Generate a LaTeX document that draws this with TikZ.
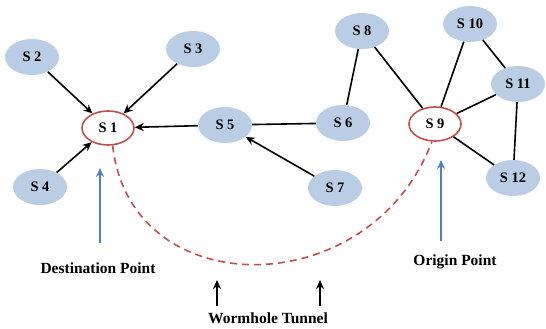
\documentclass[tikz,border=0pt]{standalone}
\usepackage{fontspec}
\setmainfont{Liberation Serif}
\usetikzlibrary{shapes.geometric,arrows.meta}
\definecolor{nodefill}{HTML}{B9CDE5}
\definecolor{redline}{HTML}{C0504D}
\definecolor{blueline}{HTML}{4F81BD}
\tikzset{
  sn/.style={ellipse, fill=nodefill, minimum width=54pt, minimum height=36pt, inner sep=0pt, font=\bfseries\fontsize{14.5}{16}\selectfont},
  hn/.style={ellipse, draw=redline, line width=1.6pt, fill=white, minimum width=52pt, minimum height=34pt, inner sep=0pt, font=\bfseries\fontsize{14.5}{16}\selectfont},
  arr/.style={-{Stealth[length=9pt,width=8pt]}, line width=1.6pt, black},
  lnk/.style={line width=1.6pt, black},
  barr/.style={-{Stealth[length=9pt,width=8pt]}, line width=1.6pt, blueline},
  lbl/.style={font=\bfseries\fontsize{15.5}{18}\selectfont, inner sep=0pt},
}
\begin{document}
\begin{tikzpicture}[x=1pt,y=-1pt]
\useasboundingbox (0,0) rectangle (546,329);
\node[hn] (s1) at (108,128) {S 1};
\node[sn] (s2) at (32,57) {S 2};
\node[sn] (s3) at (193,49) {S 3};
\node[sn] (s4) at (40,187) {S 4};
\node[sn] (s5) at (225,125) {S 5};
\node[sn] (s6) at (343,123) {S 6};
\node[sn] (s7) at (335,188) {S 7};
\node[sn] (s8) at (362,31) {S 8};
\node[hn] (s9) at (435,124) {S 9};
\node[sn] (s10) at (470,24) {S 10};
\node[sn] (s11) at (518,84) {S 11};
\node[sn] (s12) at (513,178) {S 12};
\draw[arr] (s2) -- (s1);
\draw[arr] (s3) -- (s1);
\draw[arr] (s4) -- (s1);
\draw[arr] (s5) -- (s1);
\draw[arr] (s7) -- (s5);
\draw[lnk] (s5) -- (s6);
\draw[lnk] (s6) -- (s8);
\draw[lnk] (s8) -- (s9);
\draw[lnk] (s10) -- (s9);
\draw[lnk] (s11) -- (s9);
\draw[lnk] (s12) -- (s9);
\draw[lnk] (s10) -- (s11);
\draw[lnk] (s11) -- (s12);
\draw[redline, line width=1.6pt, dash pattern=on 7pt off 5pt] (s1.-75) .. controls (130,305) and (370,305) .. (s9.-100);
\coordinate (b1) at (100,243);
\coordinate (b9) at (441,241);
\draw[barr] (b1) -- (100,168);
\draw[barr] (b9) -- (441,160);
\node[lbl] (dp) at (98,268) {Destination Point};
\node[lbl] (op) at (455,262) {Origin Point};
\node[lbl] (wt) at (268,318) {Wormhole Tunnel};
\coordinate (w1) at (217,306);
\coordinate (w2) at (320,306);
\draw[arr] (w1) -- (217,280);
\draw[arr] (w2) -- (320,280);
\end{tikzpicture}
\end{document}
